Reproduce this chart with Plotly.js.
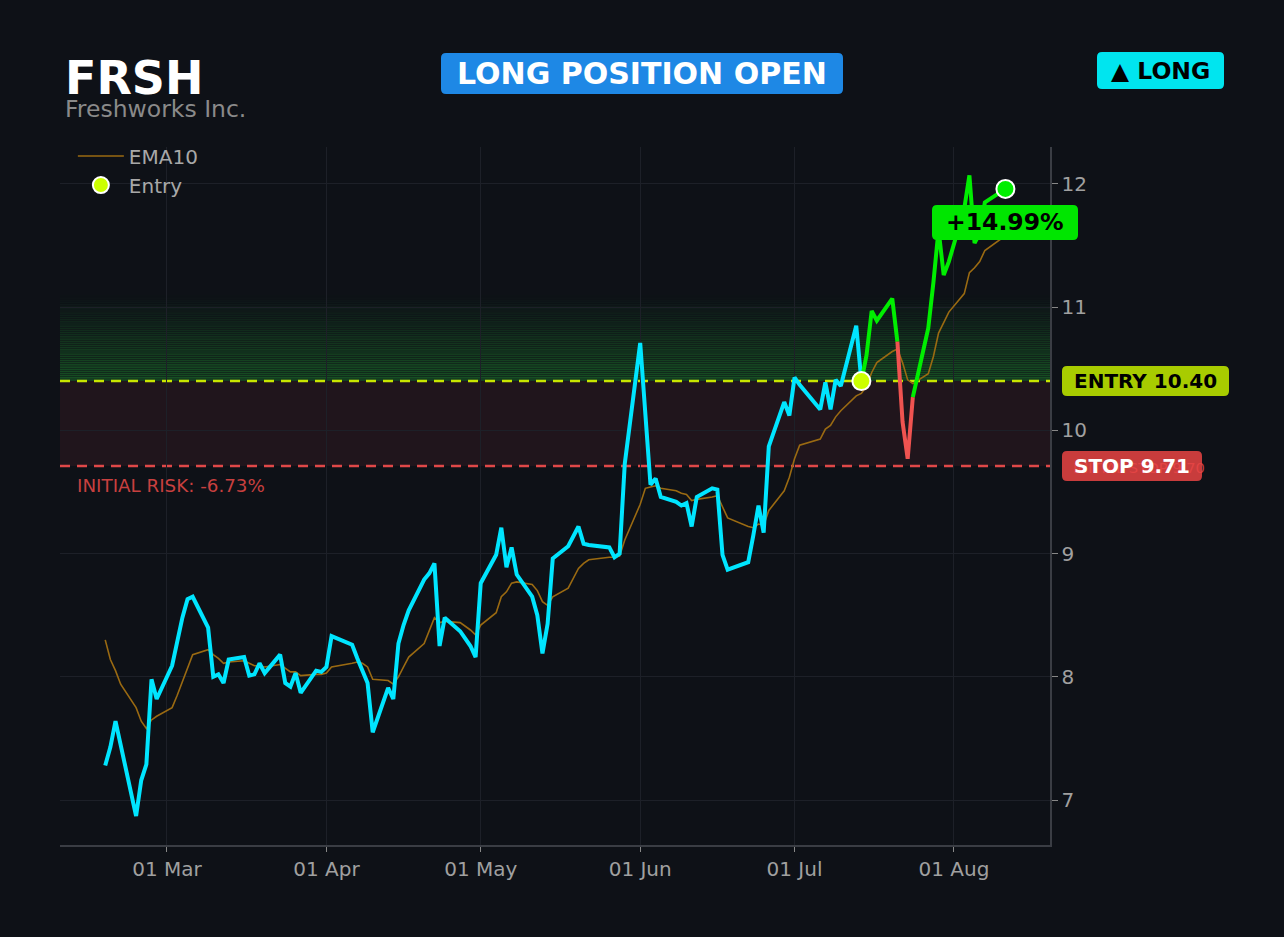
<!DOCTYPE html>
<html><head><meta charset="utf-8">
<script src="https://cdn.plot.ly/plotly-3.0.1.min.js"></script>
<style>html,body{margin:0;padding:0;background:#0e1117;}#chart{width:1284px;height:937px;}</style>
</head><body><div id="chart"></div>
<script>
const ticker = 'FRSH';
const companyName = 'Freshworks Inc.';
const statusText = 'LONG POSITION OPEN';
const sideText = '▲ LONG';
const dates = [
'2026-02-17','2026-02-18','2026-02-19','2026-02-20',
'2026-02-23','2026-02-24','2026-02-25','2026-02-26','2026-02-27',
'2026-03-02','2026-03-03','2026-03-04','2026-03-05','2026-03-06',
'2026-03-09','2026-03-10','2026-03-11','2026-03-12','2026-03-13',
'2026-03-16','2026-03-17','2026-03-18','2026-03-19','2026-03-20',
'2026-03-23','2026-03-24','2026-03-25','2026-03-26','2026-03-27',
'2026-03-30','2026-03-31','2026-04-01','2026-04-02',
'2026-04-06','2026-04-07','2026-04-08','2026-04-09','2026-04-10',
'2026-04-13','2026-04-14','2026-04-15','2026-04-16','2026-04-17',
'2026-04-20','2026-04-21','2026-04-22','2026-04-23','2026-04-24',
'2026-04-27','2026-04-28','2026-04-29','2026-04-30','2026-05-01',
'2026-05-04','2026-05-05','2026-05-06','2026-05-07','2026-05-08',
'2026-05-11','2026-05-12','2026-05-13','2026-05-14','2026-05-15',
'2026-05-18','2026-05-19','2026-05-20','2026-05-21','2026-05-22',
'2026-05-26','2026-05-27','2026-05-28','2026-05-29',
'2026-06-01','2026-06-02','2026-06-03','2026-06-04','2026-06-05',
'2026-06-08','2026-06-09','2026-06-10','2026-06-11','2026-06-12',
'2026-06-15','2026-06-16','2026-06-17','2026-06-18',
'2026-06-22','2026-06-23','2026-06-24','2026-06-25','2026-06-26',
'2026-06-29','2026-06-30','2026-07-01','2026-07-02',
'2026-07-06','2026-07-07','2026-07-08','2026-07-09','2026-07-10',
'2026-07-13','2026-07-14','2026-07-15','2026-07-16','2026-07-17',
'2026-07-20','2026-07-21','2026-07-22','2026-07-23','2026-07-24',
'2026-07-27','2026-07-28','2026-07-29','2026-07-30','2026-07-31',
'2026-08-03','2026-08-04','2026-08-05','2026-08-06','2026-08-07',
'2026-08-10','2026-08-11'];
const closes = [
7.28,7.43,7.64,7.45,
6.87,7.16,7.29,7.98,7.82,
8.09,8.30,8.48,8.63,8.65,
8.40,8.00,8.02,7.95,8.14,
8.16,8.01,8.02,8.11,8.03,
8.18,7.95,7.92,8.03,7.87,
8.05,8.04,8.08,8.33,
8.26,8.15,8.05,7.95,7.55,
7.91,7.82,8.27,8.42,8.54,
8.79,8.84,8.92,8.25,8.48,
8.37,8.31,8.25,8.16,8.76,
8.99,9.21,8.89,9.05,8.83,
8.65,8.50,8.19,8.43,8.96,
9.06,9.14,9.22,9.08,9.07,
9.05,8.97,9.00,9.73,
10.71,10.12,9.56,9.61,9.46,
9.42,9.39,9.41,9.22,9.46,
9.53,9.52,8.99,8.87,
8.93,9.15,9.39,9.17,9.87,
10.23,10.12,10.43,10.37,
10.17,10.39,10.17,10.41,10.36,
10.85,10.40,10.61,10.97,10.89,
11.07,10.72,10.07,9.77,10.27,
10.83,11.20,11.63,11.26,11.37,
11.80,12.07,11.52,11.60,11.85,
11.94,11.96];
const ema10 = [
8.30,8.14,8.05,7.94,
7.75,7.64,7.58,7.65,7.68,
7.75,7.85,7.96,8.08,8.18,
8.22,8.18,8.15,8.11,8.12,
8.13,8.11,8.09,8.09,8.08,
8.10,8.07,8.04,8.04,8.01,
8.02,8.02,8.03,8.08,
8.11,8.12,8.11,8.08,7.98,
7.97,7.94,8.00,8.08,8.16,
8.27,8.38,8.48,8.44,8.45,
8.44,8.41,8.38,8.34,8.42,
8.52,8.65,8.69,8.76,8.77,
8.75,8.70,8.61,8.58,8.65,
8.72,8.80,8.88,8.92,8.95,
8.97,8.97,8.98,9.11,
9.40,9.53,9.54,9.55,9.53,
9.51,9.49,9.48,9.43,9.44,
9.46,9.47,9.38,9.29,
9.22,9.21,9.24,9.23,9.35,
9.51,9.62,9.77,9.88,
9.93,10.01,10.04,10.11,10.16,
10.28,10.30,10.36,10.47,10.55,
10.64,10.66,10.55,10.41,10.38,
10.46,10.60,10.79,10.87,10.96,
11.11,11.28,11.32,11.37,11.46,
11.55,11.62];
const entryDate = '2026-07-14';
const entryPrice = 10.40;
const stopPrice = 9.71;
const initialStop = 9.70;
const targetPrice = 11.10;
const gainLabel = '+14.99%';
const riskLabel = 'INITIAL RISK: -6.73%';
const entryLabel = 'ENTRY 10.40';
const stopLabel = 'STOP 9.71';
const initialStopLabel = 'INITIAL STOP 9.70';

// ---- layout geometry ----
const L = 60, R = 1050, T = 147, B = 845;
const yRange = [6.635, 12.30];
const xRange = ['2026-02-08 05:00', '2026-08-19 16:00'];
const px = x => (x - L) / (R - L);
const py = y => (B - y) / (B - T);
const yPix = v => B - (v - yRange[0]) / (yRange[1] - yRange[0]) * (B - T);
const FONT = 'DejaVu Sans, Verdana, sans-serif';

function roundRect(x0, y0, x1, y1, r, color) {
  const P = (x, y) => px(x) + ',' + py(y);
  const path = 'M ' + P(x0 + r, y0) + ' L ' + P(x1 - r, y0) + ' Q ' + P(x1, y0) + ' ' + P(x1, y0 + r) +
    ' L ' + P(x1, y1 - r) + ' Q ' + P(x1, y1) + ' ' + P(x1 - r, y1) +
    ' L ' + P(x0 + r, y1) + ' Q ' + P(x0, y1) + ' ' + P(x0, y1 - r) +
    ' L ' + P(x0, y0 + r) + ' Q ' + P(x0, y0) + ' ' + P(x0 + r, y0) + ' Z';
  return {type: 'path', xref: 'paper', yref: 'paper', path: path, fillcolor: color, line: {width: 0}, layer: 'above'};
}

// ---- traces ----
const entryIdx = dates.indexOf(entryDate);
const traces = [];
traces.push({x: dates, y: ema10, type: 'scatter', mode: 'lines', name: 'EMA10',
  line: {color: '#9a6a12', width: 1.6}, hoverinfo: 'skip'});
traces.push({x: dates.slice(0, entryIdx + 1), y: closes.slice(0, entryIdx + 1), type: 'scatter', mode: 'lines',
  line: {color: '#00e5ff', width: 4}, showlegend: false, hoverinfo: 'skip'});
// post-entry segments coloured by whether each segment ends above or below the entry
let segStart = entryIdx;
for (let i = entryIdx; i < dates.length - 1; i++) {
  const col = closes[i + 1] < entryPrice ? 'red' : 'green';
  const nextCol = (i + 2 < dates.length) ? (closes[i + 2] < entryPrice ? 'red' : 'green') : null;
  if (nextCol !== col) {
    traces.push({x: dates.slice(segStart, i + 2), y: closes.slice(segStart, i + 2), type: 'scatter', mode: 'lines',
      line: {color: col === 'red' ? '#ef5350' : '#00ee00', width: 4}, showlegend: false, hoverinfo: 'skip'});
    segStart = i + 1;
  }
}
traces.push({x: [entryDate], y: [entryPrice], type: 'scatter', mode: 'markers', name: 'Entry',
  marker: {color: '#ccff00', size: 18, line: {color: '#ffffff', width: 2}}});
traces.push({x: [dates[dates.length - 1]], y: [closes[closes.length - 1]], type: 'scatter', mode: 'markers',
  marker: {color: '#00ee00', size: 18, line: {color: '#ffffff', width: 2}}, showlegend: false});

// ---- shapes ----
const shapes = [];
shapes.push({type: 'rect', xref: 'paper', yref: 'y', x0: 0, x1: 1, y0: stopPrice, y1: entryPrice,
  fillcolor: 'rgba(255,80,90,0.08)', line: {width: 0}, layer: 'below'});
const N = 40;
for (let k = 0; k < N; k++) {
  const s = (targetPrice - entryPrice) / N;
  shapes.push({type: 'rect', xref: 'paper', yref: 'y', x0: 0, x1: 1,
    y0: entryPrice + k * s + s * 0.12, y1: entryPrice + (k + 1) * s - s * 0.12,
    fillcolor: 'rgba(40,200,60,' + (0.34 * (1 - k / N)).toFixed(3) + ')', line: {width: 0}, layer: 'below'});
}
shapes.push({type: 'line', xref: 'paper', yref: 'y', x0: 0, x1: 1, y0: entryPrice, y1: entryPrice,
  line: {color: '#c8e600', width: 2.5, dash: '10px,7px'}, layer: 'below'});
shapes.push({type: 'line', xref: 'paper', yref: 'y', x0: 0, x1: 1, y0: stopPrice, y1: stopPrice,
  line: {color: '#e04848', width: 2.5, dash: '10px,7px'}, layer: 'below'});

// label boxes
const yE = yPix(entryPrice), yS = yPix(stopPrice);
const yG = yPix(closes[closes.length - 1]) + 33;
shapes.push(roundRect(441, 53, 843, 94, 5, '#1e88e5'));
shapes.push(roundRect(1097, 52, 1224, 89, 5, '#00e5ef'));
shapes.push(roundRect(1062, yE - 15, 1229, yE + 15, 5, '#a8cc00'));
shapes.push(roundRect(1062, yS - 15, 1202, yS + 15, 5, 'rgba(214,64,64,0.93)'));
shapes.push(roundRect(932, yG - 17, 1078, yG + 18, 5, '#00e600'));

// ---- annotations ----
const ann = (text, x, y, size, color, bold, anchor) => ({
  text: bold ? '<b>' + text + '</b>' : text, xref: 'paper', yref: 'paper', x: px(x), y: py(y),
  xanchor: anchor || 'center', yanchor: 'middle', showarrow: false,
  font: {family: FONT, size: size, color: color}, borderpad: 0
});
const annotations = [
  ann(ticker, 64, 78, 46, '#ffffff', true, 'left'),
  ann(companyName, 64, 109, 23.5, '#8a8a8a', false, 'left'),
  ann(statusText, 642, 73, 30, '#ffffff', true),
  ann(sideText, 1160, 71, 23.5, '#000000', true),
  ann(riskLabel, 76, 485, 18.3, '#c8403f', false, 'left'),
  ann(entryLabel, 1145.5, yE, 20, '#000000', true),
  ann(initialStopLabel, 1072, yS + 1, 14.7, 'rgba(232,70,70,0.85)', false, 'left'),
  ann(stopLabel, 1132, yS, 20, '#ffffff', true),
  ann(gainLabel, 1005, yG, 23.5, '#000000', true)
];

const layout = {
  width: 1284, height: 937,
  paper_bgcolor: '#0e1117', plot_bgcolor: '#0e1117',
  margin: {l: L, r: 1284 - R, t: T, b: 937 - B},
  font: {family: FONT, color: '#a0a0a0', size: 20},
  showlegend: true,
  legend: {x: 0.013, y: 1.015, xanchor: 'left', yanchor: 'top', bgcolor: 'rgba(0,0,0,0)',
    font: {family: FONT, size: 20, color: '#a8a8a8'}, tracegroupgap: 0, itemwidth: 46},
  xaxis: {type: 'date', range: xRange, tickformat: '%d %b', dtick: 'M1', tick0: '2026-03-01',
    showgrid: true, gridcolor: '#1d2028', gridwidth: 1, showline: true, linecolor: '#3a3d44', linewidth: 1.5,
    ticks: 'outside', ticklen: 5, tickcolor: '#888888', tickfont: {family: FONT, size: 20, color: '#a0a0a0'},
    zeroline: false, fixedrange: true},
  yaxis: {range: yRange, side: 'right', dtick: 1, tick0: 7, showgrid: true, gridcolor: '#1d2028', gridwidth: 1,
    showline: true, linecolor: '#3a3d44', linewidth: 1.5, ticks: 'outside', ticklen: 6, tickcolor: '#888888',
    tickfont: {family: FONT, size: 20, color: '#a0a0a0'}, zeroline: false, fixedrange: true},
  shapes: shapes,
  annotations: annotations
};

Plotly.newPlot('chart', traces, layout, {displayModeBar: false, staticPlot: true});
</script>
</body></html>
